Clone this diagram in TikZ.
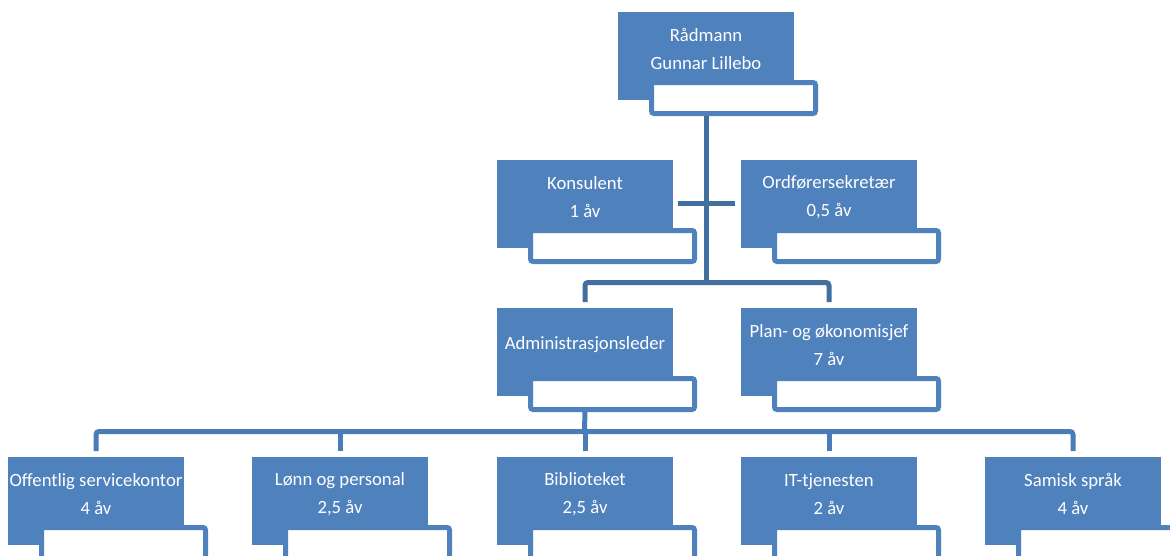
\documentclass[tikz,border=0pt]{standalone}
\usepackage{fontspec}
\setmainfont{Carlito}
\usetikzlibrary{calc,backgrounds}
\definecolor{boxblue}{HTML}{4F81BD}
\definecolor{linedark}{HTML}{41709F}
\definecolor{linelight}{HTML}{4A7DB8}
\tikzset{
  bluebox/.style={fill=boxblue,draw=none,minimum width=176pt,minimum height=88pt,inner sep=0pt,outer sep=0pt,anchor=north west},
  whitebox/.style={fill=white,draw=boxblue,line width=5pt,rounded corners=2.5pt,minimum width=164pt,minimum height=31pt,inner sep=0pt,outer sep=0pt,anchor=north west},
  lbl/.style={text=white,align=center,font=\fontsize{18.7}{28}\selectfont,inner sep=0pt},
  conn/.style={line width=5pt,rounded corners=3pt},
}
\newcommand\orgbox[4]{%
  \node[bluebox] (#1) at (#2,#3) {};
  \node[whitebox] (#1-w) at ($(#1.south west)+(33.5,-17.5)$) {};
  \node[lbl] (#1-t) at ($(#1.north)+(0,37)$) {#4};
}
\begin{document}
\begin{tikzpicture}[x=1pt,y=-1pt]
\useasboundingbox (0,0) rectangle (1170,555);
\clip (0,0) rectangle (1170,555);
\orgbox{r}{618}{12}{Rådmann\\Gunnar Lillebo}
\orgbox{k}{497}{160}{Konsulent\\1 åv}
\orgbox{o}{741}{160}{Ordførersekretær\\0,5 åv}
\orgbox{a}{497}{308}{Administrasjonsleder}
\orgbox{p}{741}{308}{Plan- og økonomisjef\\7 åv}
\orgbox{b1}{8}{457}{Offentlig servicekontor\\4 åv}
\orgbox{b2}{252}{457}{Lønn og personal\\2,5 åv}
\orgbox{b3}{497}{457}{Biblioteket\\2,5 åv}
\orgbox{b4}{741}{457}{IT-tjenesten\\2 åv}
\orgbox{b5}{985}{457}{Samisk språk\\4 åv}
\coordinate (j1) at (706,282.5);
\coordinate (ka) at (678,203);
\coordinate (oa) at (735,203);
\coordinate (j2) at (584.5,431.5);
\begin{scope}[on background layer]
\draw[conn,draw=linedark] (r-w.south -| r.south) -- (j1);
\draw[conn,draw=linedark] ($(a.north)+(0,-6)$) |- (j1) -| ($(p.north)+(0,-6)$);
\draw[conn,draw=linedark,rounded corners=0pt] (ka) -- (oa);
\draw[conn,draw=linelight] (a-w.south -| a.south) -- (j2);
\draw[conn,draw=linelight] ($(b1.north)+(0,-6)$) |- (j2) -| ($(b5.north)+(0,-6)$);
\draw[conn,draw=linelight] ($(b2.north)+(0,-6)$) -- (b2.north |- j2);
\draw[conn,draw=linelight] ($(b3.north)+(0,-6)$) -- (b3.north |- j2);
\draw[conn,draw=linelight] ($(b4.north)+(0,-6)$) -- (b4.north |- j2);
\end{scope}
\end{tikzpicture}
\end{document}
